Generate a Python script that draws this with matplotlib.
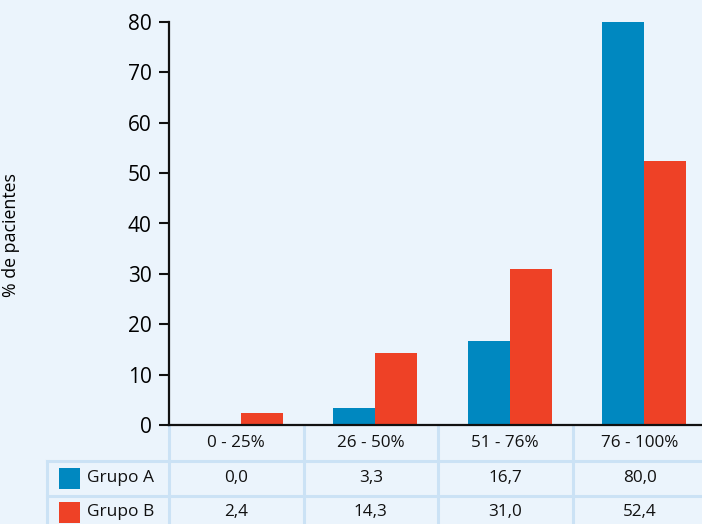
#!/usr/bin/env python3
"""Porcentaje de pacientes por tramo, grupos A y B, con tabla de valores."""

import matplotlib

matplotlib.use("Agg")
import matplotlib.pyplot as plt
import numpy as np
from matplotlib.patches import Rectangle
from matplotlib.transforms import blended_transform_factory

categorias = ["0 - 25%", "26 - 50%", "51 - 76%", "76 - 100%"]
grupo_a = [0.0, 3.3, 16.7, 80.0]
grupo_b = [2.4, 14.3, 31.0, 52.4]
series = ["Grupo A", "Grupo B"]
yticks = [0, 10, 20, 30, 40, 50, 60, 70, 80]

FONDO = "#EBF4FC"
AZUL = "#0088C0"
ROJO = "#EE4126"
LINEA = "#CBE2F5"

plt.rcParams["font.family"] = ["Open Sans", "DejaVu Sans"]

W, H = 702, 524
fig = plt.figure(figsize=(W / 100, H / 100), dpi=100, facecolor=FONDO)

# capa en pixeles (origen arriba a la izquierda) para la tabla
ax_t = fig.add_axes([0, 0, 1, 1], zorder=0)
ax_t.set_xlim(0, W)
ax_t.set_ylim(H, 0)
ax_t.axis("off")

x0, y0, ytop = 169, 425, 22
unidad = 134.5
ax = fig.add_axes([x0 / W, (H - y0) / H, (W - x0) / W, (y0 - ytop) / H], zorder=2)
ax.set_facecolor("none")
ax.set_xlim(0, (W - x0) / unidad)
ax.set_ylim(0, 80)

x = np.arange(len(categorias)) + 0.535
ancho = 0.312
ax.bar(x - ancho / 2, grupo_a, ancho, color=AZUL, linewidth=0)
ax.bar(x + ancho / 2, grupo_b, ancho, color=ROJO, linewidth=0)

for lado in ("top", "right"):
    ax.spines[lado].set_visible(False)
for lado in ("left", "bottom"):
    ax.spines[lado].set_linewidth(1.6)
    ax.spines[lado].set_color("#111111")
ax.set_xticks([])
ax.set_yticks(yticks)
ax.tick_params(axis="y", length=7.5, width=1.5, pad=5, labelsize=15, color="#111111")
ax.set_ylabel("% de pacientes", fontsize=12.8, labelpad=0)
ax.yaxis.set_label_coords(20 / (W - x0) - x0 / (W - x0), (y0 - 235) / (y0 - ytop))

# tabla: x en unidades de categoria, y en pixeles
tr = blended_transform_factory(ax.transData, ax_t.transData)
izq = (47 - x0) / unidad
filas_y = [y0, 461, 496, H + 10]
for i in range(len(categorias)):
    ax_t.plot([i, i], [y0, H], transform=tr, color=LINEA, lw=2.2, zorder=1)
for yy in filas_y[1:3]:
    ax_t.plot([izq, 4.5], [yy, yy], transform=tr, color=LINEA, lw=2.2, zorder=1)
ax_t.plot([izq, izq], [461, H], transform=tr, color=LINEA, lw=2.2, zorder=1)

centro_fila = [(filas_y[k] + filas_y[k + 1]) / 2 for k in range(3)]
centro_fila[2] = 512
for i, cat in enumerate(categorias):
    ax_t.text(i + 0.5, centro_fila[0], cat, transform=tr, ha="center", va="center",
              fontsize=12.3, color="#111111")
    for k, vals in enumerate((grupo_a, grupo_b)):
        txt = f"{vals[i]:.1f}".replace(".", ",")
        ax_t.text(i + 0.5, centro_fila[k + 1], txt, transform=tr, ha="center",
                  va="center", fontsize=12.3, color="#111111")

for k, (nombre, color) in enumerate(zip(series, (AZUL, ROJO))):
    cy = centro_fila[k + 1]
    ax_t.add_patch(Rectangle((59, cy - 10.5), 21, 21, color=color, lw=0))
    ax_t.text(87, cy, nombre, ha="left", va="center", fontsize=12.5, color="#111111")

fig.savefig("out.png", dpi=100, facecolor=FONDO)
